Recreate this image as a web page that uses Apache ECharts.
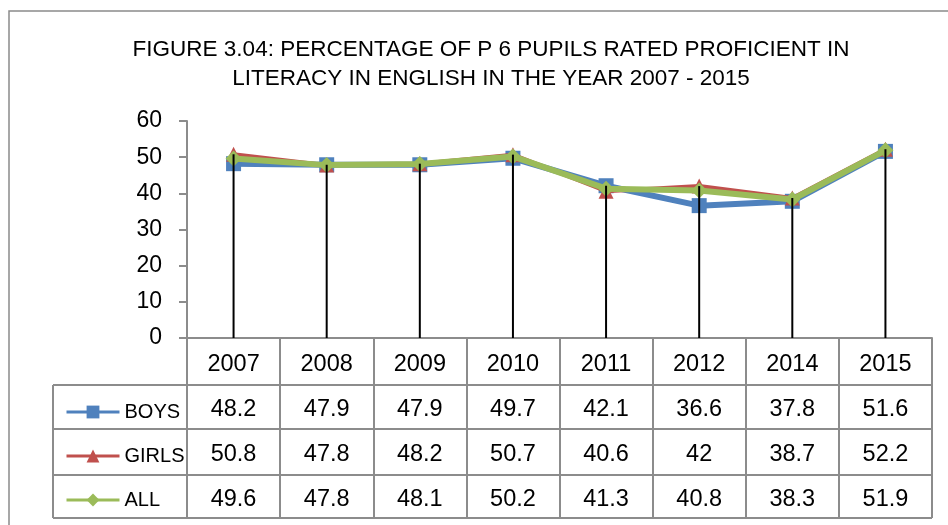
<!DOCTYPE html>
<html>
<head>
<meta charset="utf-8">
<script src="https://cdn.jsdelivr.net/npm/echarts@6/dist/echarts.min.js"></script>
<style>
html,body{margin:0;padding:0;background:#fff;}
#chart{width:948px;height:525px;}
</style>
</head>
<body>
<div id="chart"></div>
<script>
const titleLines = ['FIGURE 3.04: PERCENTAGE OF P 6 PUPILS RATED PROFICIENT IN', 'LITERACY IN ENGLISH IN THE YEAR 2007 - 2015'];
const years = ['2007', '2008', '2009', '2010', '2011', '2012', '2014', '2015'];
const boys  = [48.2, 47.9, 47.9, 49.7, 42.1, 36.6, 37.8, 51.6];
const girls = [50.8, 47.8, 48.2, 50.7, 40.6, 42, 38.7, 52.2];
const all   = [49.6, 47.8, 48.1, 50.2, 41.3, 40.8, 38.3, 51.9];
const seriesNames = ['BOYS', 'GIRLS', 'ALL'];
const yTicks = [0, 10, 20, 30, 40, 50, 60];

const FONT = '"Liberation Sans", Arial, sans-serif';
const GRID = '#8c8c8c';
const rows = [boys, girls, all];

const chart = echarts.init(document.getElementById('chart'), null, {renderer: 'canvas'});

const tableLineYs = [385, 429, 475, 518];
const graphics = [
  {type: 'rect', shape: {x: 9, y: 11, width: 1000, height: 600}, style: {fill: 'none', stroke: '#8a8a8a', lineWidth: 1.5}, silent: true},
  {type: 'line', shape: {x1: 53, y1: 385, x2: 53, y2: 518}, style: {stroke: GRID, lineWidth: 2}, silent: true}
];
tableLineYs.forEach(y => graphics.push({type: 'line', shape: {x1: 53, y1: y, x2: 932, y2: y}, style: {stroke: GRID, lineWidth: 2}, silent: true}));

const option = {
  animation: false,
  backgroundColor: '#fff',
  title: {
    text: titleLines.join('\n'),
    left: 486, top: 30, textAlign: 'center',
    textStyle: {fontFamily: FONT, fontSize: 22.5, fontWeight: 'normal', color: '#000', lineHeight: 29}
  },
  legend: {
    data: seriesNames,
    orient: 'vertical',
    left: 60, top: 395,
    itemWidth: 53, itemHeight: 16, itemGap: 20,
    textStyle: {fontFamily: FONT, fontSize: 20, color: '#000', lineHeight: 24},
    lineStyle: {width: 3}
  },
  grid: {left: 187, right: 16, top: 121, bottom: 187, containLabel: false},
  xAxis: {
    type: 'category',
    data: years,
    boundaryGap: true,
    axisLine: {lineStyle: {color: GRID, width: 2}},
    axisTick: {show: true, length: 180, interval: 0, lineStyle: {color: GRID, width: 2}},
    axisLabel: {
      interval: 0, margin: 4, color: '#000', fontFamily: FONT, fontSize: 23.5, lineHeight: 45,
      formatter: (v, i) => [v].concat(rows.map(r => String(r[i]))).join('\n')
    },
    splitLine: {show: false}
  },
  yAxis: {
    type: 'value', min: yTicks[0], max: yTicks[yTicks.length - 1], interval: 10,
    axisLine: {show: true, lineStyle: {color: GRID, width: 2}},
    axisTick: {show: true, length: 8, lineStyle: {color: GRID, width: 2}},
    axisLabel: {margin: 25, color: '#000', fontFamily: FONT, fontSize: 23},
    splitLine: {show: false}
  },
  series: [
    {name: 'BOYS', type: 'line', data: boys, z: 2, symbol: 'rect', symbolSize: 15,
     itemStyle: {color: '#4F81BD'}, lineStyle: {color: '#4F81BD', width: 6}},
    {name: 'GIRLS', type: 'line', data: girls, z: 3, symbol: 'triangle', symbolSize: 15,
     itemStyle: {color: '#C0504D'}, lineStyle: {color: '#C0504D', width: 4}},
    {name: 'ALL', type: 'line', data: all, z: 4, symbol: 'diamond', symbolSize: 16,
     itemStyle: {color: '#9BBB59'}, lineStyle: {color: '#9BBB59', width: 6}},
    {name: 'drop', type: 'custom', z: 10, silent: true,
     data: years.map((y, i) => [i, Math.max(boys[i], girls[i], all[i])]),
     encode: {x: 0, y: 1},
     renderItem: (params, api) => {
       const top = api.coord([api.value(0), api.value(1)]);
       const bot = api.coord([api.value(0), 0]);
       return {type: 'line', shape: {x1: top[0], y1: top[1], x2: bot[0], y2: bot[1]}, style: {stroke: '#000', lineWidth: 2}};
     }}
  ],
  graphic: graphics
};
chart.setOption(option);
</script>
</body>
</html>
